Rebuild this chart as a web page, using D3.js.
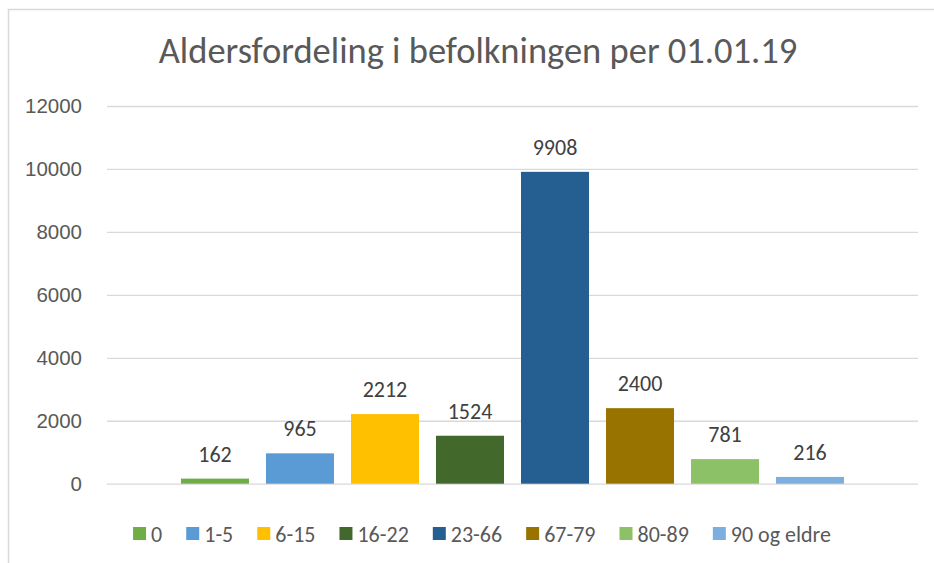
<!DOCTYPE html>
<html>
<head>
<meta charset="utf-8">
<script src="https://cdn.jsdelivr.net/npm/d3@7"></script>
<style>
  body { margin: 0; background: #fff; }
  svg { display: block; font-family: Carlito, Calibri, Lato, sans-serif; }
</style>
</head>
<body>
<div id="vis"></div>
<script>
const title = 'Aldersfordeling i befolkningen per 01.01.19';
const groups = ['0', '1-5', '6-15', '16-22', '23-66', '67-79', '80-89', '90 og eldre'];
const values = [162, 965, 2212, 1524, 9908, 2400, 781, 216];
const colors = ['#70AD47', '#5B9BD5', '#FFC000', '#43682B', '#255E91', '#997300', '#8CC168', '#7CAFDD'];
const yTicks = [0, 2000, 4000, 6000, 8000, 10000, 12000];

const width = 934;
const height = 563;
const margin = {top: 106, right: 16, bottom: 79, left: 107};
const labelSize = 22;

const svg = d3.select('#vis').append('svg')
    .attr('width', width)
    .attr('height', height);

// chart frame
svg.append('rect')
    .attr('x', 8.5)
    .attr('y', 9.5)
    .attr('width', width + 20)
    .attr('height', height + 20)
    .attr('fill', 'none')
    .attr('stroke', '#d9d9d9')
    .attr('stroke-width', 1.5);

const y = d3.scaleLinear()
    .domain([0, 12000])
    .range([height - margin.bottom - 0.3, margin.top]);

const x = d3.scaleBand()
    .domain(groups)
    .range([margin.left, width - margin.right])
    .paddingInner(0.2)
    .paddingOuter(0.87);

const color = d3.scaleOrdinal()
    .domain(groups)
    .range(colors);

svg.append('text')
    .attr('x', 478)
    .attr('y', 63)
    .attr('text-anchor', 'middle')
    .attr('fill', '#595959')
    .attr('font-size', 36.5)
    .text(title);

svg.append('g')
    .attr('transform', `translate(${margin.left},0)`)
    .call(d3.axisLeft(y)
        .tickValues(yTicks)
        .tickFormat(d3.format('d'))
        .tickSize(-(width - margin.right - margin.left))
        .tickPadding(25))
    .call(g => g.select('.domain').remove())
    .call(g => g.selectAll('.tick line').attr('stroke', '#d9d9d9').attr('stroke-width', 1.3))
    .call(g => g.selectAll('.tick text')
        .attr('fill', '#595959')
        .attr('font-size', 20.5)
        .attr('font-family', null));

const data = d3.zip(groups, values).map(([group, value]) => ({group, value}));

svg.append('g')
  .selectAll('rect')
  .data(data)
  .join('rect')
    .attr('x', d => x(d.group))
    .attr('y', d => y(d.value))
    .attr('width', x.bandwidth())
    .attr('height', d => y(0) - y(d.value))
    .attr('fill', d => color(d.group));

svg.append('g')
  .selectAll('text')
  .data(data)
  .join('text')
    .attr('x', d => x(d.group) + x.bandwidth() / 2)
    .attr('y', d => y(d.value) - 17)
    .attr('text-anchor', 'middle')
    .attr('fill', '#404040')
    .attr('font-size', labelSize)
    .text(d => d.value);

// legend, laid out from measured text widths and centred
const legend = svg.append('g');
const items = legend.selectAll('g')
  .data(groups)
  .join('g');

items.append('rect')
    .attr('y', -7)
    .attr('width', 13)
    .attr('height', 13)
    .attr('fill', d => color(d));

items.append('text')
    .attr('x', 18)
    .attr('y', 7.5)
    .attr('fill', '#595959')
    .attr('font-size', labelSize)
    .text(d => d);

const gap = 24;
let offset = 0;
items.each(function() {
  const w = 18 + d3.select(this).select('text').node().getComputedTextLength();
  d3.select(this).attr('transform', `translate(${offset},0)`);
  offset += w + gap;
});
const legendWidth = offset - gap;
legend.attr('transform', `translate(${482 - legendWidth / 2},534)`);
</script>
</body>
</html>
